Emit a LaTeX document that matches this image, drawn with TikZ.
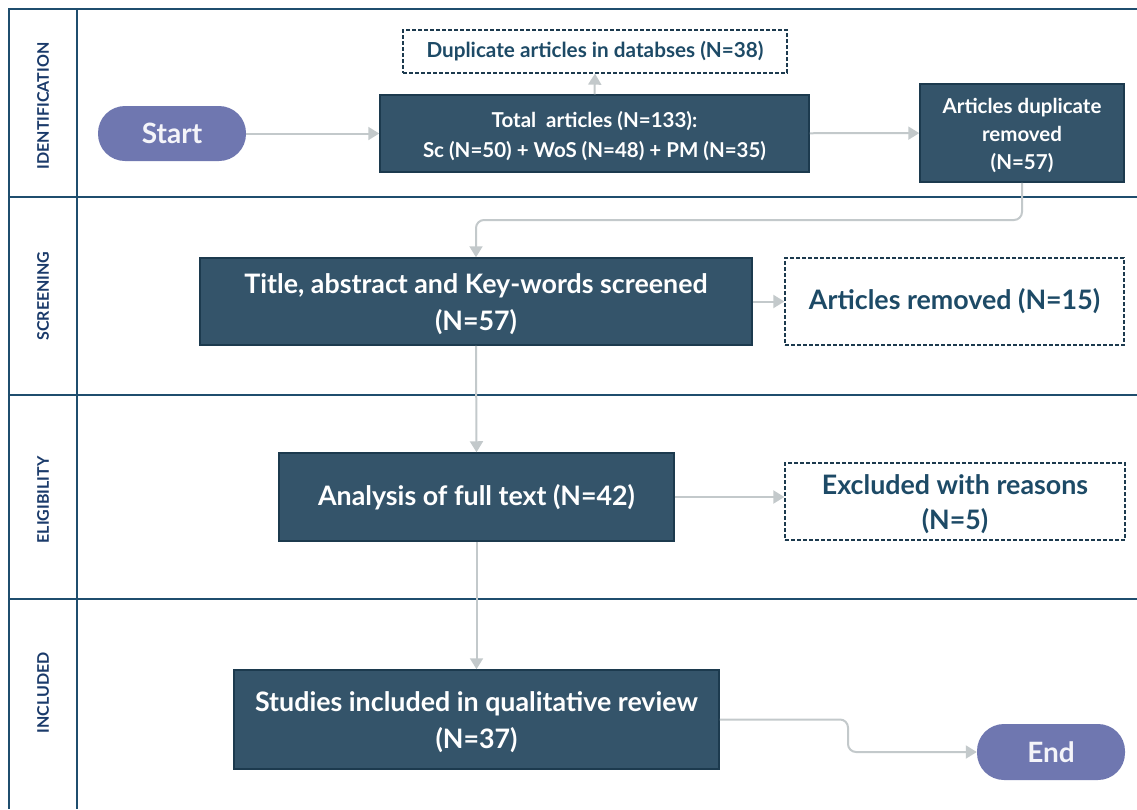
\documentclass[tikz,border=0pt]{standalone}
\usepackage{fontspec}
\setmainfont{Lato}
\usetikzlibrary{arrows.meta}
\definecolor{lanecol}{HTML}{1F4E6E}
\definecolor{labelcol}{HTML}{1A3A6A}
\definecolor{boxfill}{HTML}{34546A}
\definecolor{boxline}{HTML}{1C3A4E}
\definecolor{termfill}{HTML}{6F77B0}
\definecolor{arrowcol}{HTML}{C3C9CB}
\definecolor{dashtext}{HTML}{1D4A66}
\begin{document}
\begin{tikzpicture}[x=1pt,y=-1pt,
    lane/.style={draw=lanecol,line width=2pt},
    lanelabel/.style={rotate=90,text=labelcol,font=\bfseries\fontsize{16}{18}\selectfont},
    darkbox/.style={draw=boxline,fill=boxfill,line width=1.5pt,text=white,align=center,inner sep=0pt},
    dashbox/.style={draw=boxline,dash pattern=on 4pt off 2pt,line width=1.3pt,text=dashtext,align=center,inner sep=0pt},
    terminal/.style={fill=termfill,text=white!92!termfill,rounded corners=27pt,inner sep=0pt,font=\bfseries\fontsize{28}{30}\selectfont},
    flow/.style={draw=arrowcol,line width=2pt,-{Triangle[length=11pt,width=13pt]},rounded corners=8pt}]%
    \useasboundingbox (0,0) rectangle (1137,809);%
    % lanes
    \draw [lane] (1137,9) -- (9,9) -- (9,809);%
    \draw [lane] (77,9) -- (77,809);%
    \foreach \ly in {197,395,599}
        \draw [lane] (9,\ly) -- (1137,\ly);%
    \node [lanelabel] (lident) at (43,106) {IDENTIFICATION};%
    \node [lanelabel] (lscreen) at (43,296) {SCREENING};%
    \node [lanelabel] (lelig) at (43,500) {ELIGIBILITY};%
    \node [lanelabel] (lincl) at (43,693) {INCLUDED};%
    % nodes
    \node [terminal,minimum width=148pt,minimum height=55pt] (start) at (172,133.5) {Start};%
    \node [darkbox,minimum width=429pt,minimum height=77pt,font=\bfseries\fontsize{20.5}{30}\selectfont] (total) at (594.5,133.5) {\strut Total~ articles (N=133):\\Sc (N=50) + WoS (N=48) + PM (N=35)};%
    \node [dashbox,minimum width=384pt,minimum height=43pt,font=\bfseries\fontsize{20.7}{22}\selectfont] (dup) at (595,51.5) {Duplicate articles in databses (N=38)};%
    \node [darkbox,minimum width=204pt,minimum height=98pt,font=\bfseries\fontsize{20.5}{28}\selectfont] (duprem) at (1022,133) {\strut Articles duplicate\\removed\\(N=57)};%
    \node [darkbox,minimum width=552pt,minimum height=87pt,font=\bfseries\fontsize{26.8}{37}\selectfont] (title) at (476,301.5) {\strut Title, abstract and Key-words screened\\(N=57)};%
    \node [dashbox,minimum width=339pt,minimum height=87pt,font=\bfseries\fontsize{26.8}{37}\selectfont] (removed) at (954.5,301.5) {Articles removed (N=15)};%
    \node [darkbox,minimum width=395pt,minimum height=88pt,font=\bfseries\fontsize{26.8}{37}\selectfont] (analysis) at (476.5,497) {Analysis of full text (N=42)};%
    \node [dashbox,minimum width=340pt,minimum height=77pt,font=\bfseries\fontsize{26.8}{35}\selectfont] (excl) at (955,501.5) {\strut Excluded with reasons\\(N=5)};%
    \node [darkbox,minimum width=485pt,minimum height=99pt,font=\bfseries\fontsize{26.8}{37}\selectfont] (studies) at (476.5,719.5) {\strut Studies included in qualitative review\\(N=37)};%
    \node [terminal,minimum width=148pt,minimum height=56pt] (end) at (1051,752) {End};%
    % connectors
    \draw [flow] (start) -- (total);%
    \draw [flow] (total.north) -- (dup.south);%
    \draw [flow] (total) -- (duprem);%
    \draw [flow] (duprem.south) |- (title.north |- 0,220) -- (title.north);%
    \draw [flow] (title.south) -- (analysis.north);%
    \draw [flow] (title.east |- removed.west) -- (removed.west);%
    \draw [flow] (analysis.east) -- (analysis.east -| excl.west);%
    \draw [flow] (analysis.south) -- (studies.north);%
    \draw [flow] (studies.east) -| (848,736) |- (end.west);%
\end{tikzpicture}
\end{document}
